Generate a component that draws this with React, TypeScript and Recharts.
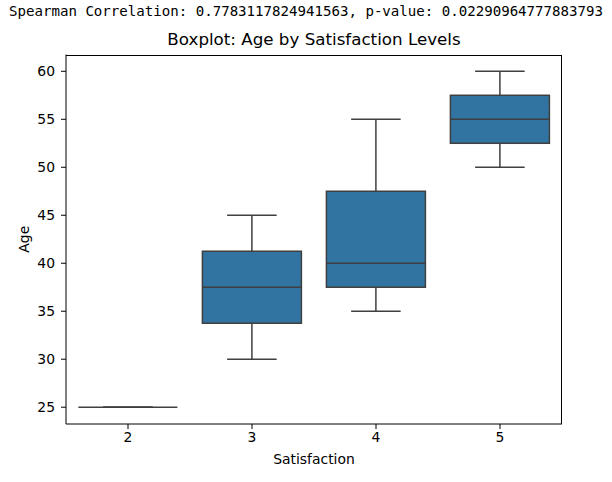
import React from "react";
import { ComposedChart, Bar, XAxis, YAxis, Label } from "recharts";

// satisfaction levels (x categories)
const satisfaction = ["2", "3", "4", "5"];
// box stats for age per level
const whiskerLow = [25, 30, 35, 50];
const q1 = [25, 33.75, 37.5, 52.5];
const median = [25, 37.5, 40, 55];
const q3 = [25, 41.25, 47.5, 57.5];
const whiskerHigh = [25, 45, 55, 60];
const yTicks = [25, 30, 35, 40, 45, 50, 55, 60];

const data = satisfaction.map((s, i) => ({
    sat: s,
    range: [whiskerLow[i], whiskerHigh[i]],
    lo: whiskerLow[i],
    q1: q1[i],
    med: median[i],
    q3: q3[i],
    hi: whiskerHigh[i],
}));

const BOX_FILL = "#3274a1";
const LINE = "#3f3f3f";
const FONT = "'DejaVu Sans', sans-serif";

const BoxShape = (props: any) => {
    const { x, y, width, height, payload } = props;
    const top = Math.min(y, y + height);
    const bottom = Math.max(y, y + height);
    const { lo, hi } = payload;
    // map a value onto the pixel span of the whisker bar
    const py = (v: number) => (hi === lo ? top : bottom - ((v - lo) / (hi - lo)) * (bottom - top));
    const cx = x + width / 2;
    const cap = width / 4;
    return (
        <g stroke={LINE} strokeWidth={1.5} fill="none">
            <line x1={cx} x2={cx} y1={py(hi)} y2={py(payload.q3)} />
            <line x1={cx} x2={cx} y1={py(payload.q1)} y2={py(lo)} />
            <line x1={cx - cap} x2={cx + cap} y1={py(hi)} y2={py(hi)} />
            <line x1={cx - cap} x2={cx + cap} y1={py(lo)} y2={py(lo)} />
            <rect
                x={x}
                y={py(payload.q3)}
                width={width}
                height={py(payload.q1) - py(payload.q3)}
                fill={BOX_FILL}
            />
            <line x1={x} x2={x + width} y1={py(payload.med)} y2={py(payload.med)} />
        </g>
    );
};

export default function App() {
    return (
        <div style={{ position: "absolute", left: 0, top: 0, width: 612, height: 482, background: "#fff" }}>
            <div
                style={{
                    position: "absolute",
                    top: 3,
                    left: 0,
                    width: 612,
                    textAlign: "center",
                    fontFamily: "'DejaVu Sans Mono', monospace",
                    fontSize: 14.1,
                    color: "#000",
                    whiteSpace: "nowrap",
                }}
            >
                Spearman Correlation: 0.7783117824941563, p-value: 0.02290964777883793
            </div>
            <div
                style={{
                    position: "absolute",
                    top: 29,
                    left: 66,
                    width: 496,
                    textAlign: "center",
                    fontFamily: FONT,
                    fontSize: 16.7,
                    color: "#000",
                }}
            >
                Boxplot: Age by Satisfaction Levels
            </div>
            <ComposedChart
                width={612}
                height={482}
                data={data}
                margin={{ top: 54.5, right: 50, bottom: 0, left: 0 }}
                barCategoryGap="10%"
                style={{ fontFamily: FONT }}
            >
                <XAxis
                    dataKey="sat"
                    height={58}
                    stroke="#000"
                    tick={{ fill: "#000", fontSize: 13.9 }}
                    tickSize={5}
                    tickMargin={3}
                >
                    <Label value="Satisfaction" position="insideBottom" offset={18} fill="#000" fontSize={13.9} />
                </XAxis>
                <YAxis
                    type="number"
                    domain={[23.25, 61.75]}
                    ticks={yTicks}
                    allowDataOverflow
                    width={66}
                    stroke="#000"
                    tick={{ fill: "#000", fontSize: 13.9 }}
                    tickSize={5}
                    tickMargin={6}
                >
                    <Label
                        value="Age"
                        angle={-90}
                        position="insideLeft"
                        offset={24}
                        fill="#000"
                        fontSize={13.9}
                        style={{ textAnchor: "middle" }}
                    />
                </YAxis>
                <Bar dataKey="range" shape={<BoxShape />} isAnimationActive={false} />
            </ComposedChart>
            {/* top + right spines */}
            <div
                style={{
                    position: "absolute",
                    left: 66,
                    top: 54.5,
                    width: 496,
                    height: 369.5,
                    borderTop: "1px solid #000",
                    borderRight: "1px solid #000",
                    boxSizing: "border-box",
                    pointerEvents: "none",
                }}
            />
        </div>
    );
}
